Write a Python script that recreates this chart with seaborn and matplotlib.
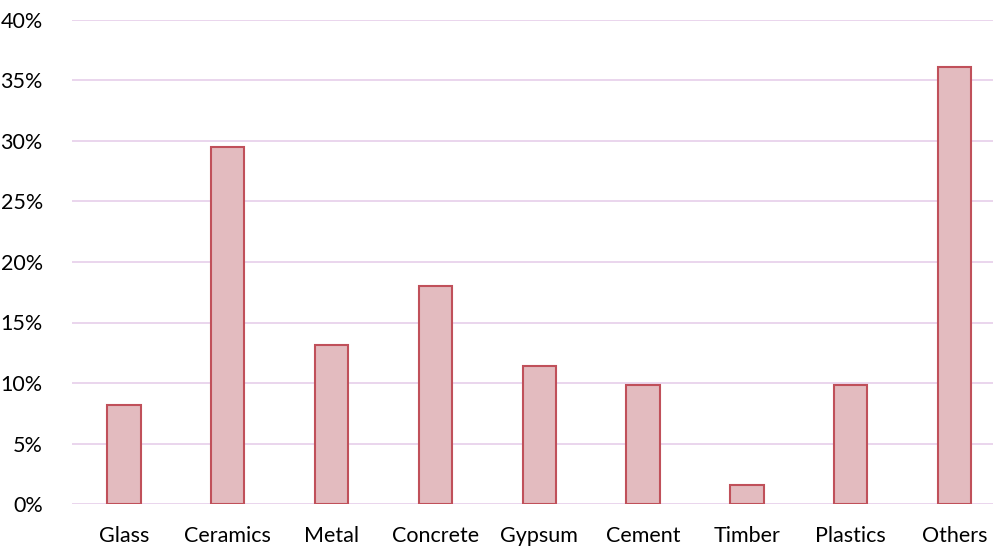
import matplotlib
matplotlib.use("Agg")
import matplotlib.pyplot as plt
import seaborn as sns
import pandas as pd
from matplotlib.ticker import PercentFormatter

materials = ["Glass", "Ceramics", "Metal", "Concrete", "Gypsum",
             "Cement", "Timber", "Plastics", "Others"]
shares = [8.2, 29.5, 13.1, 18.0, 11.4, 9.8, 1.6, 9.8, 36.1]

df = pd.DataFrame({"material": materials, "share": shares})

sns.set_style("white")
plt.rcParams["font.family"] = ["Lato", "DejaVu Sans"]

fig = plt.figure(figsize=(9.93, 5.48), dpi=100)
ax = fig.add_axes([72 / 993, 44 / 548, 921 / 993, 484 / 548])

sns.barplot(data=df, x="material", y="share", ax=ax, width=0.32,
            color="#E3BBBF", edgecolor="#C0505A", linewidth=1.5,
            saturation=1)

ax.set_ylim(0, 40)
ax.set_xlim(-0.5, 8.37)
ax.set_yticks(range(0, 41, 5))
ax.yaxis.set_major_formatter(PercentFormatter(decimals=0))
ax.grid(axis="y", color="#E8D2EC", linewidth=1.3)
ax.set_axisbelow(True)
for s in ax.spines.values():
    s.set_visible(False)
ax.set_xlabel("")
ax.set_ylabel("")
ax.tick_params(axis="both", length=0, labelsize=15.5, colors="#000000")
ax.tick_params(axis="x", pad=16)
ax.tick_params(axis="y", pad=21)

fig.savefig("out.png", dpi=100)
